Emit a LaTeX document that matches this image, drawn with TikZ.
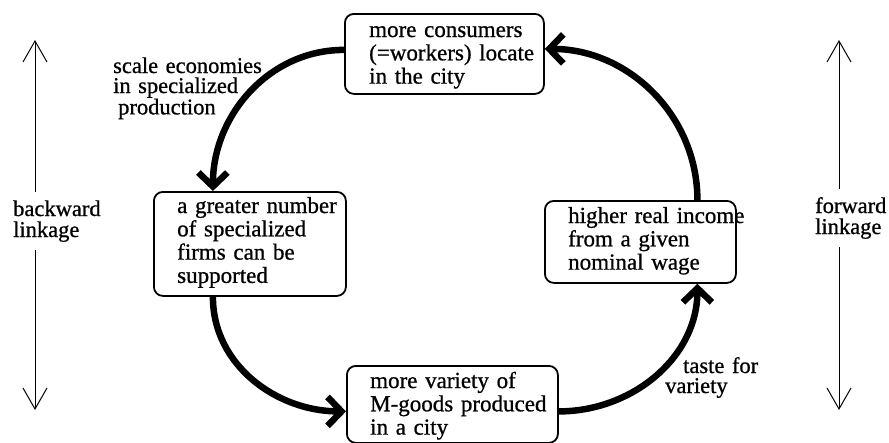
\documentclass[tikz,border=0pt]{standalone}
\usepackage{fontspec}
\setmainfont{Liberation Serif}[RawFeature={embolden=0.8}]
\usetikzlibrary{arrows.meta}
\begin{document}
\begin{tikzpicture}[x=1pt,y=1pt,
  boxnode/.style={draw, rounded corners=9pt, line width=1.8pt, inner sep=0pt, anchor=north west},
  boxtext/.style={anchor=base west, inner sep=0pt, align=left, text width=220pt, font=\fontsize{23}{23.3}\selectfont},
  lbltext/.style={anchor=base west, inner sep=0pt, align=left, text width=170pt, font=\fontsize{22.5}{20}\selectfont},
  sidelbl/.style={anchor=base west, inner xsep=0pt, inner ysep=8pt, align=left, text width=90pt, font=\fontsize{22.5}{21}\selectfont},
  flow/.style={line width=6.5pt, -{Straight Barb[length=14pt,width=29pt]}},
  link/.style={line width=1pt, -{Straight Barb[length=21pt,width=24pt]}}
]
\useasboundingbox (0,0) rectangle (889,-442);
\fill[white] (0,0) rectangle (889,-442);

% boxes
\node[boxnode, minimum width=199pt, minimum height=80pt] (top) at (344,-13) {};
\node[boxnode, minimum width=192pt, minimum height=104pt] (lft) at (153,-191) {};
\node[boxnode, minimum width=211pt, minimum height=77pt] (bot) at (346,-365) {};
\node[boxnode, minimum width=191pt, minimum height=82pt] (rgt) at (544,-200) {};

% box texts
\node[boxtext] (ttop) at (369,-37) {more consumers\\(=workers) locate\\in the city};
\node[boxtext] (tlft) at (177,-213) {a greater number\\of specialized\\firms can be\\supported};
\node[boxtext] (trgt) at (568,-223) {higher real income\\from a given\\nominal wage};
\node[boxtext] (tbot) at (370,-388) {more variety of\\M-goods produced\\in a city};

% connector labels
\node[lbltext] (scl) at (113,-73) {scale economies\\in specialized\\\hspace*{5pt}production};
\node[lbltext] (tst) at (665,-373) {\hspace*{18pt}taste for\\variety};

% cycle
\draw[flow] ([yshift=4pt]top.west) to[out=180,in=90] ([xshift=-37pt]lft.north);
\draw[flow] ([xshift=-37pt]lft.south) to[out=-90,in=180] ([yshift=-7pt]bot.west);
\draw[flow] ([yshift=-7pt]bot.east) to[out=0,in=-90] ([xshift=57pt]rgt.south);
\draw[flow] ([xshift=57pt]rgt.north) to[out=90,in=0] ([yshift=5pt]top.east);

% side linkages
\coordinate (btop) at (35,-40);
\coordinate (bbot) at (35,-410);
\node[sidelbl] (blab) at (13,-216) {backward\\linkage};
\draw[link] (blab.north -| btop) -- (btop);
\draw[link] (blab.south -| bbot) -- (bbot);

\coordinate (ftop) at (839,-40);
\coordinate (fbot) at (839,-410);
\node[sidelbl] (flab) at (815,-213) {forward\\linkage};
\draw[link] (flab.north -| ftop) -- (ftop);
\draw[link] (flab.south -| fbot) -- (fbot);
\end{tikzpicture}
\end{document}
